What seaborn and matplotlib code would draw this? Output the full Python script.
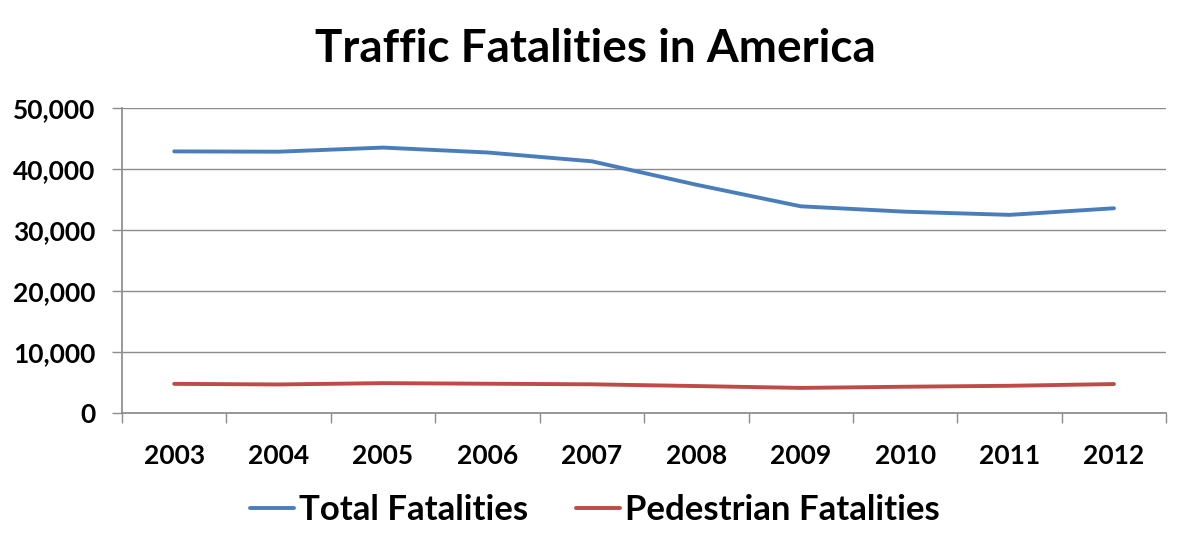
import matplotlib
matplotlib.use("Agg")
import matplotlib.pyplot as plt
from matplotlib.ticker import FuncFormatter, FixedLocator
import seaborn as sns
import pandas as pd
import numpy as np

# Chart data
years = ['2003', '2004', '2005', '2006', '2007', '2008', '2009', '2010', '2011', '2012']
total_fatalities = [42884, 42836, 43510, 42708, 41259, 37423, 33883, 32999, 32479, 33561]
pedestrian_fatalities = [4774, 4675, 4892, 4795, 4699, 4414, 4109, 4302, 4457, 4743]
series_names = ['Total Fatalities', 'Pedestrian Fatalities']

df = pd.DataFrame({
    'Year': years * 2,
    'Fatalities': total_fatalities + pedestrian_fatalities,
    'Series': [series_names[0]] * len(years) + [series_names[1]] * len(years),
})

sns.set_theme(style='white')
plt.rcParams['font.family'] = ['Lato', 'DejaVu Sans']
plt.rcParams['font.weight'] = 'bold'
plt.rcParams['text.color'] = 'black'
plt.rcParams['xtick.color'] = 'black'
plt.rcParams['ytick.color'] = 'black'

fig = plt.figure(figsize=(11.9, 5.51), dpi=100)
ax = fig.add_axes([0.1025, 0.2505, 0.8775, 0.5535])

palette = {series_names[0]: '#4A7EBB', series_names[1]: '#BE4B48'}
sns.lineplot(data=df, x='Year', y='Fatalities', hue='Series', palette=palette,
             linewidth=2.8, sort=False, ax=ax)

ax.set_xlim(-0.5, len(years) - 0.5)
ax.set_ylim(0, 50000)
ax.set_yticks(np.arange(0, 50001, 10000))
ax.yaxis.set_major_formatter(FuncFormatter(lambda v, p: f'{int(v):,}'))
ax.grid(axis='y', color='#8C8C8C', linewidth=1)
ax.set_axisbelow(True)

for s in ['top', 'right']:
    ax.spines[s].set_visible(False)
ax.spines['bottom'].set_color('#8C8C8C')
ax.spines['left'].set_color('#8C8C8C')

# tick marks between categories, labels centred on categories
ax.xaxis.set_minor_locator(FixedLocator(np.arange(-0.5, len(years), 1.0)))
ax.tick_params(axis='x', which='major', length=0, pad=22, labelsize=19, labelcolor='black')
ax.tick_params(axis='x', which='minor', length=7, width=1, color='#8C8C8C', direction='out', bottom=True)
ax.tick_params(axis='y', which='major', length=7, width=1, color='#8C8C8C', direction='out', left=True,
               pad=12, labelsize=19, labelcolor='black')
for lbl in ax.get_xticklabels() + ax.get_yticklabels():
    lbl.set_fontweight('bold')

ax.set_xlabel('')
ax.set_ylabel('')

fig.suptitle('Traffic Fatalities in America', x=0.50, y=0.95, fontsize=33, fontweight='bold',
             color='black')

handles, labels = ax.get_legend_handles_labels()
leg = ax.legend(handles, labels, loc='center', bbox_to_anchor=(0.5, 0.075), bbox_transform=fig.transFigure,
                ncol=2, frameon=False, handlelength=1.25, columnspacing=1.4, handletextpad=0.15,
                prop={'weight': 'bold', 'size': 25})
for t in leg.get_texts():
    t.set_color('black')

fig.savefig('out.png', dpi=100)
